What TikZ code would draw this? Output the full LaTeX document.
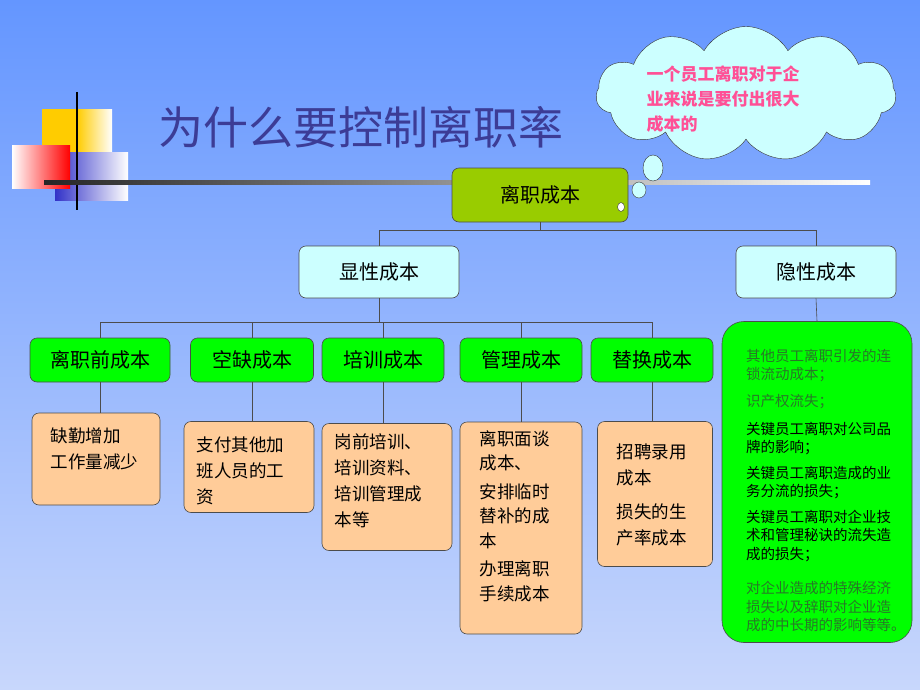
\documentclass[tikz,border=0pt]{standalone}
\usepackage{fontspec}
\setmainfont{Noto Sans CJK SC}
\usetikzlibrary{shapes.symbols}
\definecolor{bgt}{RGB}{100,150,255}
\definecolor{bgb}{RGB}{200,215,252}
\definecolor{lc}{RGB}{204,255,255}
\definecolor{olive}{RGB}{153,204,0}
\definecolor{gr}{RGB}{0,255,0}
\definecolor{org}{RGB}{255,204,153}
\definecolor{pinkc}{RGB}{255,80,150}
\definecolor{ttl}{RGB}{60,60,150}
\definecolor{dgr}{RGB}{40,120,40}
\begin{document}
\begin{tikzpicture}[x=1pt,y=-1pt,
 box/.style={draw=black!70,line width=0.6pt,rounded corners=7pt},
 hd/.style={font=\fontsize{20}{24}\selectfont},
 ot/.style={font=\fontsize{17.5}{26}\selectfont,align=left,anchor=north west},
 gt/.style={font=\fontsize{14.5}{18.5}\selectfont,align=left,anchor=north west,inner sep=0pt},
 ln/.style={draw=black!70,line width=0.6pt}]
\useasboundingbox (0,0) rectangle (920,690);
\shade[top color=bgt,bottom color=bgb] (0,0) rectangle (920,690);
% decorations
\shade[left color={rgb,255:red,255;green,204;blue,0},right color=white,middle color={rgb,255:red,255;green,204;blue,0}] (42,110) rectangle (112,180);
\shade[left color={rgb,255:red,50;green,50;blue,200},right color=white] (55,152) rectangle (128,200);
\shade[left color=white,right color=red] (12,145) rectangle (70,188);
\draw[line width=1.5pt] (77,92) -- (77,210);
\shade[left color=black!85,right color=white] (44,180) rectangle (870,184);
\node[font=\fontsize{45}{49}\selectfont,text=ttl,anchor=west] (title) at (155,127) {为什么要控制离职率};
% cloud
\node[cloud,cloud puffs=11,cloud puff arc=120,aspect=2.2,draw=black!80,fill=lc,minimum width=300pt,minimum height=135pt,inner sep=0pt] (cl) at (746,94) {};
\node[font=\bfseries\fontsize{17}{25}\selectfont,text=pinkc,align=left,anchor=north west] (ct) at (643,62) {一个员工离职对于企\\业来说是要付出很大\\成本的};
\draw[fill=lc,draw=black!80] (653,168) ellipse (10 and 13);
\draw[fill=lc,draw=black!80] (639,190) ellipse (7 and 8);
% root
\node[box,fill=olive,minimum width=176pt,minimum height=54pt,hd] (root) at (540,195) {离职成本};
\draw[fill=white,draw=black!80] (621,207) ellipse (3.5 and 4.5);
\node[box,fill=lc,minimum width=160pt,minimum height=52pt,hd] (xs) at (379,272) {显性成本};
\node[box,fill=lc,minimum width=160pt,minimum height=52pt,hd] (ys) at (816,272) {隐性成本};
\coordinate (j1) at (540,230);
\draw[ln] (root) -- (j1);
\draw[ln] (379,230) -- (816,230);
\draw[ln] (379,230) -- (xs.north);
\draw[ln] (816,230) -- (ys.north);
% level 3
\node[box,fill=gr,minimum width=140pt,minimum height=44pt,hd] (a) at (100,360) {离职前成本};
\node[box,fill=gr,minimum width=123pt,minimum height=44pt,hd] (b) at (252,360) {空缺成本};
\node[box,fill=gr,minimum width=122pt,minimum height=44pt,hd] (c) at (383,360) {培训成本};
\node[box,fill=gr,minimum width=122pt,minimum height=44pt,hd] (d) at (521,360) {管理成本};
\node[box,fill=gr,minimum width=122pt,minimum height=44pt,hd] (e) at (652,360) {替换成本};
\draw[ln] (xs.south) -- (379,322);
\draw[ln] (100,322) -- (652,322);
\foreach \n in {a,b,c,d,e} \draw[ln] (\n.north) -- (\n.north |- 0,322);
\node[box,fill=gr,rounded corners=22pt,minimum width=190pt,minimum height=321pt] (g) at (817,482) {};
\draw[ln] (ys.south) -- (g.north);
% orange
\node[box,fill=org,minimum width=128pt,minimum height=92pt] (oa) at (96,459) {};
\node[box,fill=org,minimum width=130pt,minimum height=91pt] (ob) at (249,467) {};
\node[box,fill=org,minimum width=130pt,minimum height=127pt] (oc) at (387,487) {};
\node[box,fill=org,minimum width=122pt,minimum height=212pt] (od) at (521,528) {};
\node[box,fill=org,minimum width=115pt,minimum height=145pt] (oe) at (655,494) {};
\foreach \n in {a,b,c,d,e} \draw[ln] (\n.south) -- (\n.south |- o\n.north);
\node[ot] (ta) at (47,424) {缺勤增加\\工作量减少};
\node[ot] (tb) at (193,433) {支付其他加\\班人员的工\\资};
\node[ot] (tc) at (331,430) {岗前培训、\\培训资料、\\培训管理成\\本等};
\node[ot,font=\fontsize{17.5}{24.5}\selectfont] (td) at (476,427) {离职面谈\\成本、\\[4pt]安排临时\\替补的成\\本\\[4pt]办理离职\\手续成本};
\node[ot] (te) at (613,440) {招聘录用\\成本\\[8pt]损失的生\\产率成本};
\node[gt,text=dgr] (g1) at (746,349) {其他员工离职引发的连\\锁流动成本；\\[8pt]识产权流失；};
\node[gt] (g2) at (746,422) {关键员工离职对公司品\\牌的影响；\\[7pt]关键员工离职造成的业\\务分流的损失；\\[7pt]关键员工离职对企业技\\术和管理秘诀的流失造\\成的损失；};
\node[gt,text=dgr] (g3) at (746,581) {对企业造成的特殊经济\\损失以及辞职对企业造\\成的中长期的影响等等。};
\end{tikzpicture}
\end{document}
